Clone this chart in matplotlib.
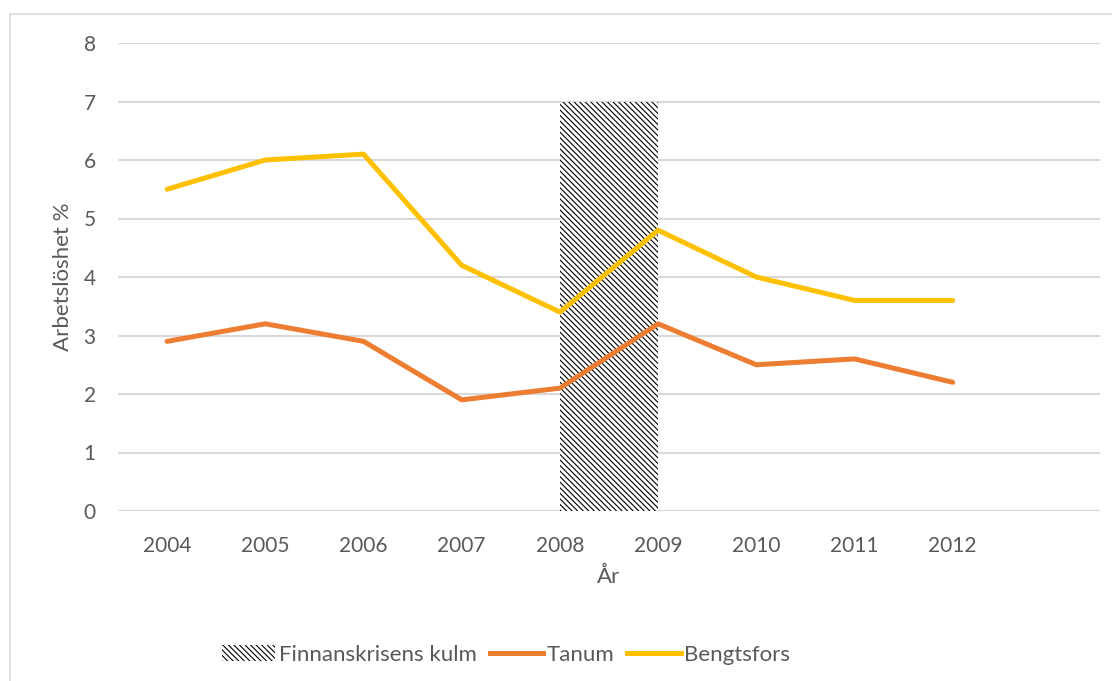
import matplotlib.pyplot as plt
import matplotlib.patches as mpatches
from matplotlib.lines import Line2D
import numpy as np

# Data
years = ['2004', '2005', '2006', '2007', '2008', '2009', '2010', '2011', '2012', '']
tanum = [2.9, 3.2, 2.9, 1.9, 2.1, 3.2, 2.5, 2.6, 2.2]
bengtsfors = [5.5, 6.0, 6.1, 4.2, 3.4, 4.8, 4.0, 3.6, 3.6]
crisis_start = '2008'
crisis_end = '2009'
crisis_height = 7

TEXT = '#595959'
GRID = '#D9D9D9'
ORANGE = '#ED7D31'
GOLD = '#FFC000'
HATCH = '\\' * 6

plt.rcParams['font.family'] = ['Lato', 'DejaVu Sans']
plt.rcParams['hatch.linewidth'] = 0.8

fig = plt.figure(figsize=(11.12, 6.81), dpi=100)
ax = fig.add_axes([118 / 1112, 1 - 511 / 681, 982 / 1112, 468 / 681])

# outer chart border
fig.patches.append(mpatches.Rectangle((10 / 1112, -0.1), 1.2, 0.1 + (1 - 14 / 681),
                                      transform=fig.transFigure, fill=False,
                                      edgecolor=GRID, linewidth=1.2))

x = np.arange(len(years))
i0 = years.index(crisis_start)
i1 = years.index(crisis_end)
ax.bar(i0, crisis_height, width=i1 - i0, align='edge', color='white',
       edgecolor='black', linewidth=0, hatch=HATCH, zorder=2)

ax.plot(x[:len(tanum)], tanum, color=ORANGE, linewidth=3.6, solid_capstyle='round',
        solid_joinstyle='round', zorder=3)
ax.plot(x[:len(bengtsfors)], bengtsfors, color=GOLD, linewidth=3.6, solid_capstyle='round',
        solid_joinstyle='round', zorder=3)

ax.set_xlim(-0.5, len(years) - 0.5)
ax.set_ylim(0, 8)
ax.set_yticks(range(0, 9))
ax.set_xticks(x)
ax.set_xticklabels(years)
ax.yaxis.grid(True, color=GRID, linewidth=1.5)
ax.set_axisbelow(True)
for s in ax.spines.values():
    s.set_visible(False)
ax.tick_params(length=0, labelsize=15, labelcolor=TEXT)
ax.tick_params(axis='x', pad=18)
ax.tick_params(axis='y', pad=16)

ax.set_ylabel('Arbetslöshet %', fontsize=16, color=TEXT, labelpad=8)
ax.set_xlabel('År', fontsize=16, color=TEXT, labelpad=8)

handles = [
    mpatches.Patch(facecolor='white', edgecolor='black', linewidth=0, hatch=HATCH),
    Line2D([], [], color=ORANGE, linewidth=3.6),
    Line2D([], [], color=GOLD, linewidth=3.6),
]
labels = ['Finnanskrisens kulm', 'Tanum', 'Bengtsfors']
fig.legend(handles, labels, loc='center', bbox_to_anchor=(506 / 1112, 1 - 655 / 681),
           ncol=3, frameon=False, fontsize=16, labelcolor=TEXT, handlelength=2.4,
           handletextpad=0.15, columnspacing=0.6)

fig.savefig('out.png', dpi=100)
